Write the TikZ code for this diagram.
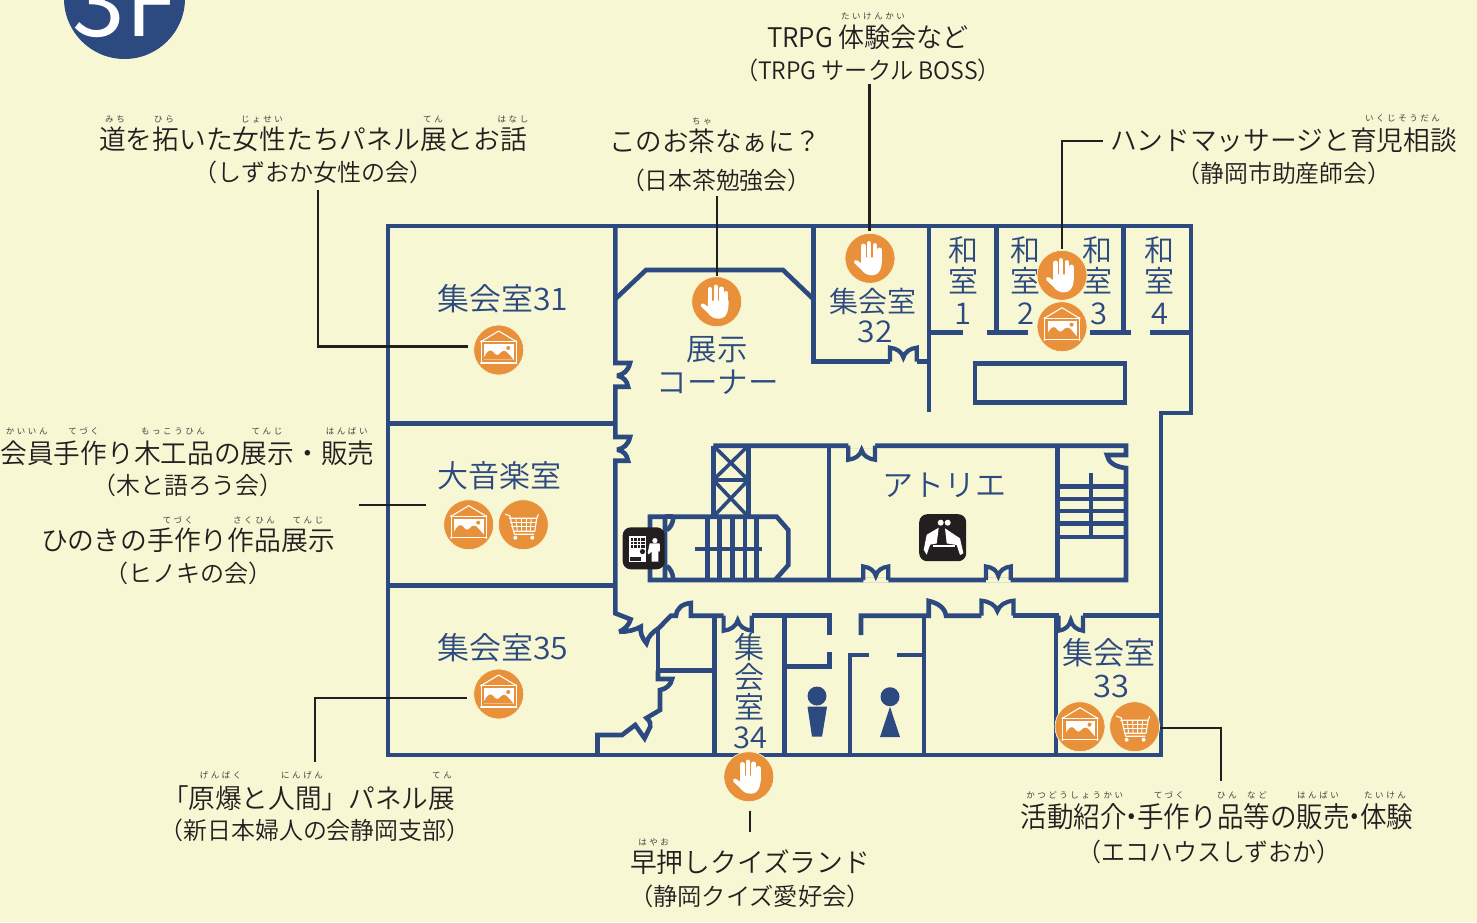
\documentclass[tikz,border=0pt]{standalone}
\usepackage{fontspec}
\usepackage{graphicx}
\newfontfamily\jp{Noto Sans CJK JP DemiLight}
\newfontfamily\rbf[LetterSpace=30]{Noto Sans CJK JP}
\definecolor{bgc}{HTML}{F7F7D3}
\definecolor{navy}{HTML}{2C4A80}
\definecolor{org}{HTML}{E8913A}
\definecolor{ink}{HTML}{231F20}
\tikzset{
  wall/.style={draw=navy,line width=4.6pt,line join=miter,miter limit=3},
  leader/.style={draw=ink,line width=2.1pt,line join=miter},
  labt/.style={inner sep=0pt,outer sep=0pt,text=ink,anchor=center},
  roomt/.style={inner sep=0pt,outer sep=0pt,text=navy,anchor=center},
  rubt/.style={inner sep=0pt,outer sep=0pt,text=ink!85,anchor=center},
  iconc/.style={circle,fill=org,draw=bgc,line width=.7pt,minimum size=50pt,inner sep=0pt},
  sqicon/.style={rounded corners=8pt,fill=ink,draw=none,minimum width=#1,minimum height=#1,inner sep=0pt},
  thinw/.style={draw=white,line width=1.1pt},
  handicon/.pic={
    \draw[white,line width=4.4pt,line cap=round] (-6.5,2)--(-6.5,-12.5) (-1,2)--(-1,-15) (4.8,2)--(4.8,-13) (9.5,3)--(9.5,-8.5);
    \fill[white] (-8.8,-1) -- (11.8,-1) .. controls (12.2,7) and (11,17) .. (2,17) .. controls (-3,17) and (-6,15) .. (-9,11) -- (-15.5,5) .. controls (-17,3) and (-15,0.5) .. (-13,2) -- (-8.8,5) -- cycle;
  },
  picicon/.pic={
    \draw[thinw,line join=round] (-17.5,-8.5)--(0,-19)--(17.5,-8.5);
    \draw[thinw] (-17.5,-8.5) rectangle (17.5,13);
    \fill[white] (-14.5,-6) rectangle (14.8,9.5);
    \fill[org] (-14.5,9.5) -- (-14.5,7) .. controls (-11,0) and (-8,-1) .. (-5.5,2) .. controls (-3.5,5) and (-1,6) .. (1,3.5) .. controls (4,0) and (7,0) .. (10,4) .. controls (12,6) and (13,8) .. (14.8,9.5) -- cycle;
    \fill[org] (9.5,-2) circle (2pt);
    \foreach \p in {(-17.5,-8.5),(17.5,-8.5),(-17.5,13),(17.5,13)} \fill[white] \p circle (1.2pt);
  },
  carticon/.pic={
    \draw[thinw,line cap=round,line join=round] (-18,-10.5)--(-13.5,-9)--(-9,9.5)--(10.5,9.5);
    \draw[thinw,line cap=round,line join=round] (-14,-6.5)--(13.5,-6.5)--(15,-10) (13.5,-6.5)--(11.5,6.5)--(-9.8,6.5);
    \draw[white,line width=.9pt] (-13,-2.5)--(13,-2.5) (-12,1.5)--(12.3,1.5);
    \draw[white,line width=.9pt] (-7.5,-6.5)--(-6,6.5) (-2,-6.5)--(-1.5,6.5) (3,-6.5)--(3,6.5) (8,-6.5)--(7,6.5);
    \fill[white] (-8,13) circle (2pt) (9,13) circle (2pt);
  },
  vendicon/.pic={
    \fill[white] (-14.8,-12.7) rectangle (2.2,13.3);
    \fill[ink] (-13,-10.7) rectangle (0.8,-0.7);
    \draw[white,line width=.5pt] (-13,-7.5)--(0.8,-7.5) (-13,-4)--(0.8,-4) (-10,-10.7)--(-10,-.7) (-6.5,-10.7)--(-6.5,-.7) (-3,-10.7)--(-3,-.7);
    \fill[ink] (-1.2,3.3) circle (2.6pt);
    \fill[ink] (-13.8,8.3) rectangle (-3,12.3);
    \fill[white] (11.2,-7.7) circle (2.6pt);
    \fill[white] (6,-5) -- (16,-5) -- (16.3,3) -- (14.6,3) -- (14.6,13.3) -- (8,13.3) -- (8,3) -- (5,6) -- (4,4.5) -- cycle;
  },
  seaticon/.pic={
    \fill[white] (-2,-15) circle (3pt) (5,-15) circle (3pt);
    \fill[white] (-4,-10) -- (-16,-3) -- (-19,12) -- (-16,17) -- (-12.6,7) -- (-6,5.7) -- cycle;
    \fill[white] (2.3,-9.3) -- (17.3,.7) -- (20.7,15.7) -- (17.3,17.3) -- (14,7.3) -- (4,5.7) -- cycle;
    \draw[white,line width=1.4pt] (-9.3,8.3)--(12.3,8.3);
  }
}
\newcommand{\lbl}[7][labt]{%
  \pgfmathsetmacro\lh{.88*#5}\pgfmathsetmacro\ld{.12*#5}%
  \node[#1,text height=\lh pt,text depth=\ld pt] (#2) at (#3,#4) {\resizebox{#6pt}{\height}{\jp\fontsize{#5}{#5}\selectfont #7}};}
\newcounter{rbc}
\newcommand{\rub}[3]{\stepcounter{rbc}\node[rubt] (rb\arabic{rbc}) at (#1,#2) {\rbf\fontsize{8.5}{8.5}\selectfont #3};}
\newcommand{\ddoor}[4]{% x1 x2 y h
  \pgfmathsetmacro\xm{(#1+#2)/2}\pgfmathsetmacro\w{#2-#1}
  \draw[wall,line width=4.2pt] (#1,#3) -- (#1,#3+#4) .. controls (#1+.25*\w,#3+.95*#4) and (\xm-.05*\w,#3+.7*#4) .. (\xm,#3+.3*#4) .. controls (\xm+.05*\w,#3+.7*#4) and (#2-.25*\w,#3+.95*#4) .. (#2,#3+#4) -- (#2,#3);}
\begin{document}
\begin{tikzpicture}[x=1pt,y=-1pt]
\useasboundingbox (0,0) rectangle (1477,922);
\fill[bgc] (0,0) rectangle (1477,922);
% badge
\begin{scope}
\clip (0,0) rectangle (1477,922);
\node[circle,fill=navy,minimum size=121pt,inner sep=0pt] (badge) at (124.5,-1.5) {};
\node[inner sep=0pt,text=white,anchor=base] (badget) at (125,36.5) {\fontspec{Noto Sans CJK JP}\fontsize{95}{95}\selectfont 3F};
\end{scope}
% walls
\draw[wall] (388,755)--(388,226)--(1191,226)--(1191,413)--(1161,413)--(1161,755)--cycle;
\draw[wall] (388,423.3)--(615,423.3) (388,585.7)--(615,585.7);
\draw[wall] (615.3,226)--(615.3,363)--(630,363) .. controls (628,371) and (624,374) .. (617.3,375.7) .. controls (624,377) and (627,381) .. (628,386.7)--(615.3,386.7)--(615.3,437)--(630,437) .. controls (628,445) and (624,448) .. (617.3,449.7) .. controls (624,451) and (627,455) .. (628,460.7)--(615.3,460.7)--(615.3,613.3)--(630.6,619.3) .. controls (629,625) and (625,629) .. (619.4,631.7) .. controls (627,632) and (635,630) .. (640.8,626.7) .. controls (640,633) and (642,638) .. (646.5,643.3) .. controls (648,636) and (653,632) .. (658.5,628.3)--(670.9,615.7)--(676,615.7) .. controls (677,608) and (682,604) .. (690.9,603)--(690.9,615.7)--(723.6,615.7);
\ddoor{723.6}{751.8}{615.7}{15}
\draw[wall] (751.8,615.7)--(829.4,615.7)--(829.4,635);
\draw[wall] (829.4,651.7)--(829.4,666.7)--(784.6,666.7);
\draw[wall] (784.6,615.7)--(784.6,755);
\draw[wall] (861,635)--(861,615.7)--(928.7,615.7)--(928.7,601) .. controls (938,603) and (945,608) .. (946,615.7)--(981.4,615.7);
\ddoor{981.4}{1013.4}{615.7}{-15}
\draw[wall] (1013.4,615.7)--(1058.6,615.7);
\ddoor{1058.6}{1083}{615.7}{15}
\draw[wall] (1083,615.7)--(1161,615.7);
\draw[wall] (924,615.7)--(924,755) (1056,615.7)--(1056,755);
\draw[wall] (850,755)--(850,655)--(868.5,655) (896.7,655)--(924,655);
% left lower rooms
\draw[wall] (714.2,615.7)--(714.2,755);
\draw[wall] (658,628)--(658,670.7)--(714.2,670.7);
\draw[wall] (658,670.7)--(658,679)--(672,679) .. controls (671,685) and (666,689) .. (660,690)--(660,710)--(646.5,718) .. controls (650,721) and (651,724) .. (650.2,726.7)--(644.6,738.3)--(635.2,725)--(622,735)--(597.5,735)--(597.5,755);
% upper right
\draw[wall] (813.3,226)--(813.3,361.7)--(890,361.7);
\ddoor{890}{916.7}{361.7}{-14}
\draw[wall] (916.7,361.7)--(929,361.7);
\draw[wall] (929,226)--(929,411.7) (996.7,226)--(996.7,332.3) (1123.3,226)--(1123.3,332.3);
\draw[wall] (929,332.3)--(963.3,332.3) (986.7,332.3)--(1028.3,332.3) (1090,332.3)--(1130.7,332.3) (1150,332.3)--(1191,332.3);
\draw[wall] (975,363.3) rectangle (1125,402.7);
% exhibit chamfer
\draw[wall] (615.3,299)--(646,270)--(783,270)--(813.3,299);
% centre block
\draw[wall] (713.3,445.7)--(1126,445.7) -- (1126,455)--(1107,455) .. controls (1108,462) and (1115,467) .. (1126,468)--(1126,580)--(650,580)--(650,516.7)--(665,516.7)--(665,580);
\draw[wall] (713.3,516.7)--(713.3,445.7) (748.3,516.7)--(748.3,445.7) (713.3,480)--(748.3,480);
\draw[wall,line width=3.6pt] (713.3,445.7)--(748.3,480)--(713.3,516.7) (748.3,445.7)--(713.3,480)--(748.3,516.7);
\draw[wall] (666.7,530) .. controls (670,528) and (673,524) .. (673.3,516.7)--(776.7,516.7)--(788.3,530)--(788.3,565)--(775,580);
\draw[wall] (665,516.7)--(673.3,516.7);
\draw[wall] (666.7,566) .. controls (670,568) and (673,573) .. (673.3,580);
\draw[wall] (707.3,516.7)--(707.3,580) (719.3,516.7)--(719.3,580) (732.3,516.7)--(732.3,580) (745,516.7)--(745,580) (756.7,516.7)--(756.7,580);
\draw[wall] (695,549)--(761.7,549);
\draw[wall] (829,445.7)--(829,580) (1057.3,445.7)--(1057.3,580);
\draw[wall] (1057.3,486.7)--(1126,486.7) (1057.3,498.8)--(1126,498.8) (1057.3,511)--(1126,511) (1057.3,523.3)--(1126,523.3) (1057.3,537)--(1126,537) (1091,473)--(1091,537);
% atelier doors (erase wall between leaves)
\fill[bgc] (848.3,443) rectangle (875,448.4) (863.3,577.3) rectangle (888.3,582.7) (986,577.3) rectangle (1010.7,582.7);
\ddoor{848.3}{875}{445.7}{14}
\ddoor{863.3}{888.3}{580}{-13.5}
\ddoor{986}{1010.7}{580}{-13.5}
% toilets
\fill[navy] (817,696) circle (9.5pt);
\fill[navy] (807.5,706.7)--(827,706.7)--(822,736.7)--(812,736.7)--cycle;
\fill[navy] (890,696.7) circle (9.5pt);
\fill[navy] (890,706.7)--(900,737)--(880,737)--cycle;
% room labels
\lbl[roomt]{r31}{503}{299}{31}{131}{集会室31}
\lbl[roomt]{r30}{499.5}{476}{31}{124}{大音楽室}
\lbl[roomt]{r35}{503}{648}{31}{131}{集会室35}
\lbl[roomt]{rex1}{717}{349}{30.5}{61}{展示}
\lbl[roomt]{rex2}{717.5}{382}{30.5}{122}{コーナー}
\lbl[roomt]{r32a}{873}{301}{29}{87}{集会室}
\lbl[roomt]{r32b}{875}{331}{30}{35}{32}
\lbl[roomt]{wa1a}{963}{250}{30}{30}{和}\lbl[roomt]{wa1b}{963}{281}{30}{30}{室}\lbl[roomt]{wa1c}{963}{313}{30}{17}{1}
\lbl[roomt]{wa2a}{1025}{250}{30}{30}{和}\lbl[roomt]{wa2b}{1025}{281}{30}{30}{室}\lbl[roomt]{wa2c}{1026}{313}{30}{17}{2}
\lbl[roomt]{wa3a}{1097}{250}{30}{30}{和}\lbl[roomt]{wa3b}{1097}{281}{30}{30}{室}\lbl[roomt]{wa3c}{1099}{313}{30}{17}{3}
\lbl[roomt]{wa4a}{1159}{250}{30}{30}{和}\lbl[roomt]{wa4b}{1159}{281}{30}{30}{室}\lbl[roomt]{wa4c}{1160}{313}{30}{17}{4}
\lbl[roomt]{r34a}{749}{647}{30}{30}{集}\lbl[roomt]{r34b}{749}{677}{30}{30}{会}\lbl[roomt]{r34c}{749}{707}{30}{30}{室}\lbl[roomt]{r34d}{750}{737}{30}{34}{34}
\lbl[roomt]{rat}{944}{485}{30.5}{124}{アトリエ}
\lbl[roomt]{r33a}{1109}{653}{31}{93}{集会室}
\lbl[roomt]{r33b}{1111}{686}{31}{36}{33}
% black icons
\node[sqicon=42pt] (vend) at (643.7,548.3) {};
\pic at (vend) {vendicon};
\node[sqicon=47pt] (seat) at (942.7,537.7) {};
\pic at (seat) {seaticon};
% labels
\lbl{la1}{313}{139}{27}{428}{道を拓いた女性たちパネル展とお話}
\lbl{la2}{313.8}{172}{24}{240}{（しずおか女性の会）}
\rub{115}{119}{みち}\rub{164}{119}{ひら}\rub{262}{119}{じょせい}\rub{433}{119}{てん}\rub{513}{119}{はなし}
\lbl{lb1}{715}{141.5}{27}{212}{このお茶なぁに？}
\lbl{lb2}{716}{180}{24}{190}{（日本茶勉強会）}
\rub{702}{121.7}{ちゃ}
\lbl{lc1}{868}{37.3}{27}{202}{TRPG 体験会など}
\lbl{lc2}{868}{70.5}{24}{266}{（TRPG サークル BOSS）}
\rub{873}{16.7}{たいけんかい}
\lbl{ld1}{1283.5}{140}{27}{347}{ハンドマッサージと育児相談}
\lbl{ld2}{1284}{173.3}{24}{215}{（静岡市助産師会）}
\rub{1402.5}{118.3}{いくじそうだん}
\lbl{le1}{187.5}{453.3}{27}{374}{会員手作り木工品の展示・販売}
\lbl{le2}{188}{485.7}{24}{191}{（木と語ろう会）}
\rub{26.7}{431}{かいいん}\rub{83.6}{431}{てづく}\rub{173}{431}{もっこうひん}\rub{267}{431}{てんじ}\rub{346.7}{431}{はんばい}
\lbl{lf1}{188}{540.7}{27}{294}{ひのきの手作り作品展示}
\lbl{lf2}{188.5}{573}{24}{168}{（ヒノキの会）}
\rub{178}{520}{てづく}\rub{254}{520}{さくひん}\rub{308}{520}{てんじ}
\lbl{lg1}{308.5}{798}{27}{293}{「原爆と人間」パネル展}
\lbl{lg2}{315}{830.7}{24}{311}{（新日本婦人の会静岡支部）}
\rub{220.6}{775}{げんばく}\rub{302}{775}{にんげん}\rub{442}{775}{てん}
\lbl{lh1}{750}{862}{27}{240}{早押しクイズランド}
\lbl{lh2}{750}{896}{24}{242}{（静岡クイズ愛好会）}
\rub{653.6}{842}{はやお}
\lbl{li1}{1217}{816.7}{28.5}{393}{活動紹介\kern-8.5pt・\kern-8.5pt手作り品等の販売\kern-8.5pt・\kern-8.5pt体験}
\lbl{li2}{1209}{851.7}{25}{263}{（エコハウスしずおか）}
\rub{1074.7}{795}{かつどうしょうかい}\rub{1169}{795}{てづく}\rub{1227}{795}{ひん}\rub{1257}{795}{など}\rub{1318}{795}{はんばい}\rub{1385}{795}{たいけん}
% connectors
\coordinate (c1a) at (869.5,84); \coordinate (c1b) at (869.5,231);
\draw[leader] (c1a)--(c1b);
\coordinate (c2a) at (717,196); \coordinate (c2b) at (717,276);
\draw[leader] (c2a)--(c2b);
\coordinate (c3a) at (1103,141); \coordinate (c3b) at (1062,249);
\draw[leader] (c3a)-|(c3b);
\coordinate (c4a) at (318,190); \coordinate (c4b) at (468,346.5);
\draw[leader] (c4a)|-(c4b);
\coordinate (c5a) at (358.5,505); \coordinate (c5b) at (426,505);
\draw[leader] (c5a)--(c5b);
\coordinate (c6a) at (315,762); \coordinate (c6b) at (467,698);
\draw[leader] (c6a)|-(c6b);
\coordinate (c7a) at (750,810.5); \coordinate (c7b) at (750,832);
\draw[leader] (c7a)--(c7b);
\coordinate (c8a) at (1158,727.7); \coordinate (c8b) at (1221,781);
\draw[leader] (c8a)-|(c8b);
% icons
\node[iconc] (h1) at (716.7,301.7) {}; \pic at (h1) {handicon};
\node[iconc] (h2) at (870,258.3) {}; \pic at (h2) {handicon};
\node[iconc] (p5) at (1062,326.7) {}; \pic at (p5) {picicon};
\node[iconc] (h3) at (1062,275.3) {}; \pic at (h3) {handicon};
\node[iconc] (h4) at (748.8,776.7) {}; \pic at (h4) {handicon};
\node[iconc] (p1) at (498.7,350) {}; \pic at (p1) {picicon};
\node[iconc] (p2) at (468.7,524.7) {}; \pic at (p2) {picicon};
\node[iconc] (k1) at (523.3,524.7) {}; \pic at (k1) {carticon};
\node[iconc] (p3) at (498.7,694) {}; \pic at (p3) {picicon};
\node[iconc] (p4) at (1080,726.7) {}; \pic at (p4) {picicon};
\node[iconc] (k2) at (1134.6,726.7) {}; \pic at (k2) {carticon};
\end{tikzpicture}
\end{document}
